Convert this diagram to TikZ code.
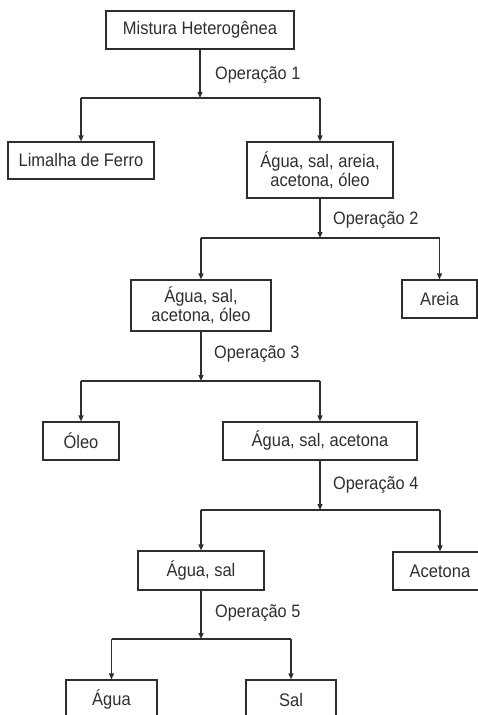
\documentclass[tikz,border=0pt]{standalone}
\usepackage{fontspec}
\setmainfont{Liberation Sans}
\usetikzlibrary{arrows.meta}
\definecolor{ink}{HTML}{2E2E2E}
% slightly tall lettering
\newcommand{\tall}[1]{\scalebox{1}[1.1]{#1}}
\begin{document}
\begin{tikzpicture}[x=1pt,y=-1pt,
  box/.style={draw=ink, line width=1.1pt, inner sep=0pt, text=ink,
    font=\fontsize{16.5}{19}\selectfont, align=center},
  link/.style={draw=ink, line width=1.3pt},
  arr/.style={link, -{Triangle[length=6pt,width=5pt]}},
  oplabel/.style={text=ink, font=\fontsize{16.3}{18}\selectfont, anchor=west, inner sep=0pt}]
\useasboundingbox (0,0) rectangle (478,715);
\clip (0,0) rectangle (478,715);

% mixtures and separated components
\node[box, minimum width=188pt, minimum height=38pt] (mix) at (200,30) {\tall{Mistura Heterogênea}};
\node[box, minimum width=146pt, minimum height=37pt] (ferro) at (81,160.5) {\tall{Limalha de Ferro}};
\node[box, minimum width=146pt, minimum height=56pt] (m2) at (320,170) {\tall{Água, sal, areia,}\\\tall{acetona, óleo}};
\node[box, minimum width=140pt, minimum height=51pt] (m3) at (201,305.5) {\tall{Água, sal,}\\\tall{acetona, óleo}};
\node[box, minimum width=75pt, minimum height=38pt] (areia) at (439.5,299) {\tall{Areia}};
\node[box, minimum width=76pt, minimum height=38pt] (oleo) at (81,441) {\tall{Óleo}};
\node[box, minimum width=194pt, minimum height=38pt] (m4) at (320,441) {\tall{Água, sal, acetona}};
\node[box, minimum width=126pt, minimum height=39pt] (m5) at (201,570.5) {\tall{Água, sal}};
\node[box, minimum width=94pt, minimum height=38pt] (acetona) at (440,571) {\tall{Acetona}};
\node[box, minimum width=91pt, minimum height=40pt] (agua) at (111.5,700) {\tall{Água}};
\node[box, minimum width=90pt, minimum height=40pt] (sal) at (291,700) {\tall{Sal}};

% branching points
\coordinate (j1) at (200,98);
\coordinate (j2) at (320,238);
\coordinate (j3) at (201,381);
\coordinate (j4) at (320,510);
\coordinate (j5) at (201,639);

% operation 1
\draw[arr] (mix) -- (j1);
\draw[link] (ferro.north |- j1) -- (m2.north |- j1);
\draw[arr] (ferro.north |- j1) -- (ferro.north);
\draw[arr] (m2.north |- j1) -- (m2.north);
\node[oplabel] (op1) at (215,75) {\tall{Operação 1}};

% operation 2
\draw[arr] (m2) -- (j2);
\draw[link] (m3.north |- j2) -- (areia.north |- j2);
\draw[arr] (m3.north |- j2) -- (m3.north);
\draw[arr] (areia.north |- j2) -- (areia.north);
\node[oplabel] (op2) at (333,220) {\tall{Operação 2}};

% operation 3
\draw[arr] (m3) -- (j3);
\draw[link] (oleo.north |- j3) -- (m4.north |- j3);
\draw[arr] (oleo.north |- j3) -- (oleo.north);
\draw[arr] (m4.north |- j3) -- (m4.north);
\node[oplabel] (op3) at (214,354) {\tall{Operação 3}};

% operation 4
\draw[arr] (m4) -- (j4);
\draw[link] (m5.north |- j4) -- (acetona.north |- j4);
\draw[arr] (m5.north |- j4) -- (m5.north);
\draw[arr] (acetona.north |- j4) -- (acetona.north);
\node[oplabel] (op4) at (333,485) {\tall{Operação 4}};

% operation 5
\draw[arr] (m5) -- (j5);
\draw[link] (agua.north |- j5) -- (sal.north |- j5);
\draw[arr] (agua.north |- j5) -- (agua.north);
\draw[arr] (sal.north |- j5) -- (sal.north);
\node[oplabel] (op5) at (215,613) {\tall{Operação 5}};
\end{tikzpicture}
\end{document}
